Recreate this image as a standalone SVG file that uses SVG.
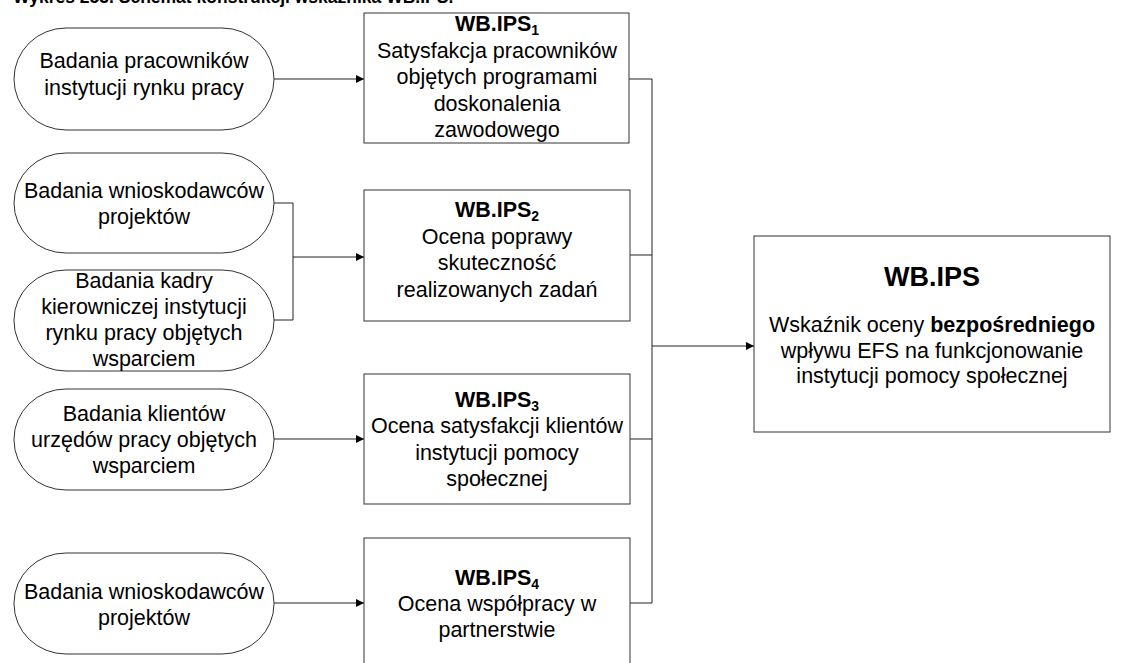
<svg xmlns="http://www.w3.org/2000/svg" width="1133" height="663" viewBox="0 0 1133 663">
  <style>
    text { font-family: "Liberation Sans", Arial, sans-serif; font-size: 21.5px; fill: #000; text-anchor: middle; }
    .b { font-weight: bold; }
    .sub { font-size: 14px; }
    .title { font-size: 17.5px; font-weight: bold; text-anchor: start; }
    .big { font-size: 27px; font-weight: bold; }
    .pill, .box { fill: #fff; stroke: #333; stroke-width: 1; }
    .wire { fill: none; stroke: #222; stroke-width: 1; }
  </style>
  <defs>
    <marker id="arrow" viewBox="0 0 10 10" refX="10" refY="5" markerWidth="11" markerHeight="8" markerUnits="userSpaceOnUse" orient="auto">
      <path d="M0,0 L10,5 L0,10 z" fill="#000"/>
    </marker>
  </defs>

  <rect width="1133" height="663" fill="#fff"/>
  <!-- caption runs off the top edge of the sheet -->
  <text class="title" x="13" y="3">Wykres 253. Schemat konstrukcji wskaźnika WB.IPS.</text>

  <!-- connectors -->
  <g id="connectors">
    <path class="wire" d="M274,79 H364" marker-end="url(#arrow)"/>
    <path class="wire" d="M274,203 H293 V320 H274"/>
    <path class="wire" d="M293,257 H364" marker-end="url(#arrow)"/>
    <path class="wire" d="M274,439 H364" marker-end="url(#arrow)"/>
    <path class="wire" d="M274,603 H364" marker-end="url(#arrow)"/>
    <path class="wire" d="M629,79 H652 M630,255 H652 M630,439 H652 M630,603 H652 M652,79 V603"/>
    <path class="wire" d="M652,346 H754" marker-end="url(#arrow)"/>
  </g>

  <!-- sources -->
  <g id="src1">
    <rect class="pill" x="14" y="28" width="260" height="102" rx="52" ry="51"/>
    <text x="144" y="68">Badania pracowników</text>
    <text x="144" y="95">instytucji rynku pracy</text>
  </g>
  <g id="src2">
    <rect class="pill" x="14" y="153" width="260" height="100" rx="52" ry="50"/>
    <text x="144" y="198">Badania wnioskodawców</text>
    <text x="144" y="224">projektów</text>
  </g>
  <g id="src3">
    <rect class="pill" x="14" y="270" width="260" height="101" rx="52" ry="50"/>
    <text x="144" y="288">Badania kadry</text>
    <text x="144" y="314">kierowniczej instytucji</text>
    <text x="144" y="340">rynku pracy objętych</text>
    <text x="144" y="366">wsparciem</text>
  </g>
  <g id="src4">
    <rect class="pill" x="14" y="389" width="260" height="101" rx="52" ry="50"/>
    <text x="144" y="421">Badania klientów</text>
    <text x="144" y="447">urzędów pracy objętych</text>
    <text x="144" y="473">wsparciem</text>
  </g>
  <g id="src5">
    <rect class="pill" x="14" y="553" width="260" height="101" rx="52" ry="50"/>
    <text x="144" y="599">Badania wnioskodawców</text>
    <text x="144" y="625">projektów</text>
  </g>

  <!-- partial indicators -->
  <g id="ips1">
    <rect class="box" x="364" y="13" width="265" height="130"/>
    <text x="497" y="31"><tspan class="b">WB.IPS</tspan><tspan class="b sub" dy="4">1</tspan></text>
    <text x="497" y="58">Satysfakcja pracowników</text>
    <text x="497" y="84">objętych programami</text>
    <text x="497" y="111">doskonalenia</text>
    <text x="497" y="137">zawodowego</text>
  </g>
  <g id="ips2">
    <rect class="box" x="364" y="190" width="266" height="131"/>
    <text x="497" y="217"><tspan class="b">WB.IPS</tspan><tspan class="b sub" dy="4">2</tspan></text>
    <text x="497" y="244">Ocena poprawy</text>
    <text x="497" y="270">skuteczność</text>
    <text x="497" y="297">realizowanych zadań</text>
  </g>
  <g id="ips3">
    <rect class="box" x="364" y="374" width="266" height="130"/>
    <text x="497" y="407"><tspan class="b">WB.IPS</tspan><tspan class="b sub" dy="4">3</tspan></text>
    <text x="497" y="433">Ocena satysfakcji klientów</text>
    <text x="497" y="460">instytucji pomocy</text>
    <text x="497" y="486">społecznej</text>
  </g>
  <g id="ips4">
    <rect class="box" x="364" y="538" width="266" height="132"/>
    <text x="497" y="585"><tspan class="b">WB.IPS</tspan><tspan class="b sub" dy="4">4</tspan></text>
    <text x="497" y="611">Ocena współpracy w</text>
    <text x="497" y="637">partnerstwie</text>
  </g>

  <!-- aggregate indicator -->
  <g id="ips">
    <rect class="box" x="754" y="236" width="356" height="196"/>
    <text class="big" x="932" y="286">WB.IPS</text>
    <text x="932" y="332">Wskaźnik oceny <tspan class="b">bezpośredniego</tspan></text>
    <text x="932" y="358">wpływu EFS na funkcjonowanie</text>
    <text x="932" y="383">instytucji pomocy społecznej</text>
  </g>
</svg>
